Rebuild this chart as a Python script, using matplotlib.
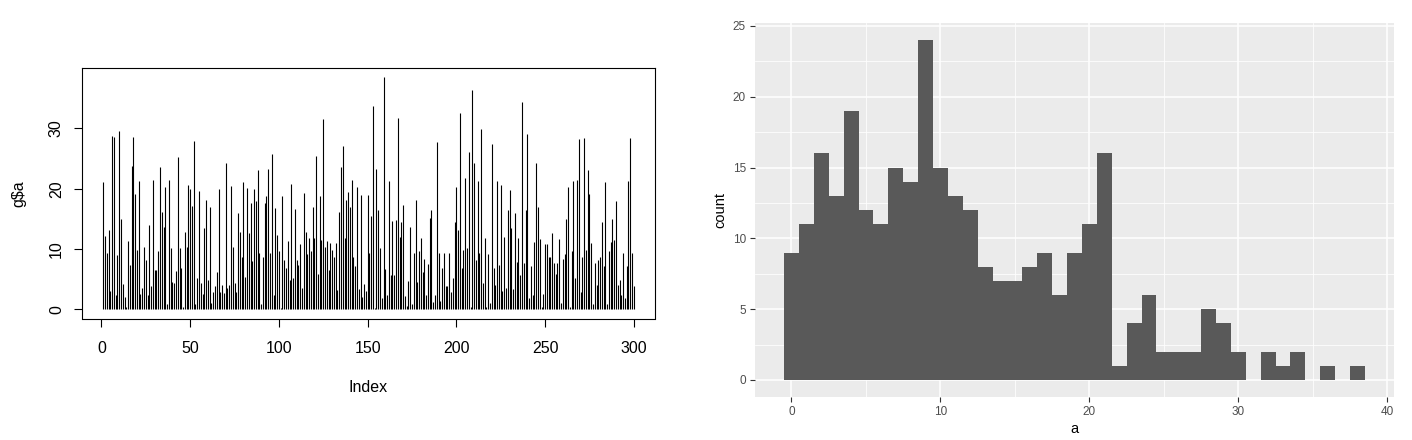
import numpy as np
import matplotlib.pyplot as plt

plt.rcParams['font.family'] = ['Liberation Sans', 'DejaVu Sans']

# g$a, 300 values
a = [
    21.2, 12.2, 9.4, 13.2, 3.0, 28.8, 28.6, 2.3, 9.0, 29.6,
    15.0, 4.2, 2.1, 0.4, 11.4, 7.3, 23.8, 28.6, 19.1, 9.8,
    21.3, 2.5, 3.6, 10.3, 8.2, 2.4, 13.9, 3.9, 21.4, 6.5,
    6.5, 9.6, 23.6, 16.2, 13.6, 20.3, 0.9, 21.4, 10.2, 4.6,
    4.3, 6.4, 25.2, 10.1, 6.8, 0.4, 12.9,
    10.4, 20.6, 19.9, 17.1, 27.9, 0.9, 5.2, 19.6, 4.3, 2.6,
    13.5, 18.2, 4.9, 17.0, 1.1, 2.8, 3.8, 6.2, 19.9, 2.8,
    4.0, 2.7, 24.3, 3.5, 4.0, 20.5, 10.4, 4.3, 2.9, 16.0,
    12.9, 8.7, 21.2, 5.4, 20.2, 12.7, 17.6, 8.0, 20.0, 18.0,
    23.1, 9.4, 0.9, 8.7, 17.7, 18.8, 23.3, 9.4, 25.8, 2.3,
    16.8,
    12.3, 9.7, 0.2, 18.8, 8.2, 6.9, 11.4, 4.9, 20.8, 5.2,
    16.6, 8.2, 7.3, 10.9, 3.6, 19.3, 12.9, 9.2, 11.9, 9.6,
    16.9, 11.9, 25.5, 5.9, 18.8, 11.5, 31.6, 10.3, 11.4, 6.5,
    11.0, 9.9, 8.7, 11.0, 3.2, 16.2, 23.6, 27.1, 11.8, 18.2,
    19.4, 17.0, 21.4, 8.7, 7.2, 20.3, 3.4, 19.0, 2.0, 4.2,
    3.0,
    19.0, 9.4, 15.5, 33.7, 0.2, 23.3, 16.5, 10.2, 1.9, 38.5,
    6.7, 2.4, 21.3, 5.7, 14.6, 5.7, 14.8, 31.8, 12.0, 14.5,
    17.3, 2.2, 0.6, 4.7, 13.6, 0.9, 9.3, 18.1, 4.5, 9.6,
    11.9, 6.2, 8.3, 2.3, 7.5, 15.1, 16.4, 1.2, 2.3, 27.7,
    9.4, 1.3, 6.9, 9.4, 3.9, 3.8, 9.3, 2.9, 5.1, 14.5,
    20.3, 13.2, 32.6, 6.9, 9.9, 21.8, 10.2, 26.1, 0.4, 36.4,
    24.3, 8.1, 21.3, 9.4, 29.9, 4.3, 11.9, 0.4, 9.2, 1.1,
    27.4, 6.9, 4.1, 21.3, 7.4, 20.7, 3.1, 12.0, 3.6, 16.4,
    19.8, 13.5, 3.4, 16.0, 7.9, 11.9, 5.7, 34.4, 7.7, 16.4,
    29.1, 1.8, 7.2, 2.3, 11.2, 24.3, 16.9, 11.7, 0.3, 2.6,
    10.9,
    10.8, 8.6, 8.6, 12.6, 7.7, 5.9, 7.6, 11.7, 1.1, 8.4,
    9.2, 15.0, 20.3, 0.3, 9.7, 21.3, 5.1, 21.5, 28.3, 2.8,
    8.7, 28.5, 9.9, 23.1, 19.2, 11.0, 0.9, 7.7, 4.0, 8.2,
    8.6, 14.5, 7.2, 21.2, 0.8, 9.6, 11.2, 15.0, 11.5, 18.0,
    4.1, 4.8, 2.3, 9.4, 1.9, 7.1, 21.3, 28.5, 9.4, 3.8,
]
index = np.arange(1, len(a) + 1)

# histogram of a, binwidth 1 (counts)
bin_centers = np.arange(0, 39)
counts = [9, 11, 16, 13, 19, 12, 11, 15, 14, 24,
          15, 13, 12, 8, 7, 7, 8, 9, 6, 9,
          11, 16, 1, 4, 6, 2, 2, 2, 5, 4,
          2, 0, 2, 1, 2, 0, 1, 0, 1]

fig = plt.figure(figsize=(14.12, 4.4), dpi=100)
fig.set_facecolor('white')

# ---- left: base R style plot(g$a, type="h")
ax1 = fig.add_axes([82 / 1412, 1 - 318.5 / 440, 573 / 1412, 250.5 / 440])
ax1.vlines(index, 0, a, color='black', lw=0.8)
ax1.set_xlim(1 - 0.04 * 299, 300 + 0.04 * 299)
ax1.set_ylim(-0.04 * max(a), max(a) * 1.04)
ax1.set_xticks([0, 50, 100, 150, 200, 250, 300])
ax1.set_yticks([0, 10, 20, 30])
ax1.tick_params(direction='out', length=6, width=0.8, labelsize=11.5)
ax1.tick_params(axis='x', pad=10.5)
ax1.tick_params(axis='y', pad=7)
for lbl in ax1.get_yticklabels():
    lbl.set_rotation(90)
    lbl.set_va('center')
for s in ax1.spines.values():
    s.set_linewidth(0.8)
ax1.set_xlabel('Index', fontsize=11.5, labelpad=17)
ax1.set_ylabel('g$a', fontsize=11.5, labelpad=16)

# ---- right: ggplot2 style geom_histogram(binwidth=1)
ax2 = fig.add_axes([755 / 1412, 1 - 397 / 440, 639 / 1412, 374 / 440])
ax2.set_facecolor('#EBEBEB')
ax2.bar(bin_centers, counts, width=1.0, color='#595959', zorder=3)
ax2.set_xlim(-0.5 - 0.05 * 39, 38.5 + 0.05 * 39)
ax2.set_ylim(-0.05 * 24, 24 * 1.05)
ax2.set_xticks([0, 10, 20, 30, 40])
ax2.set_yticks([0, 5, 10, 15, 20, 25])
ax2.set_xticks([5, 15, 25, 35], minor=True)
ax2.set_yticks([2.5, 7.5, 12.5, 17.5, 22.5], minor=True)
ax2.grid(which='major', color='white', lw=1.1, zorder=0)
ax2.grid(which='minor', color='white', lw=0.55, zorder=0)
ax2.set_axisbelow(True)
for s in ax2.spines.values():
    s.set_visible(False)
ax2.tick_params(which='major', direction='out', length=3.5, width=0.8,
                color='#333333', labelcolor='#4D4D4D', labelsize=8.5, pad=3)
ax2.tick_params(which='minor', length=0)
ax2.set_xlabel('a', fontsize=10.5, labelpad=3)
ax2.set_ylabel('count', fontsize=10.5, labelpad=4)

fig.savefig('out.png', dpi=100, facecolor='white')
